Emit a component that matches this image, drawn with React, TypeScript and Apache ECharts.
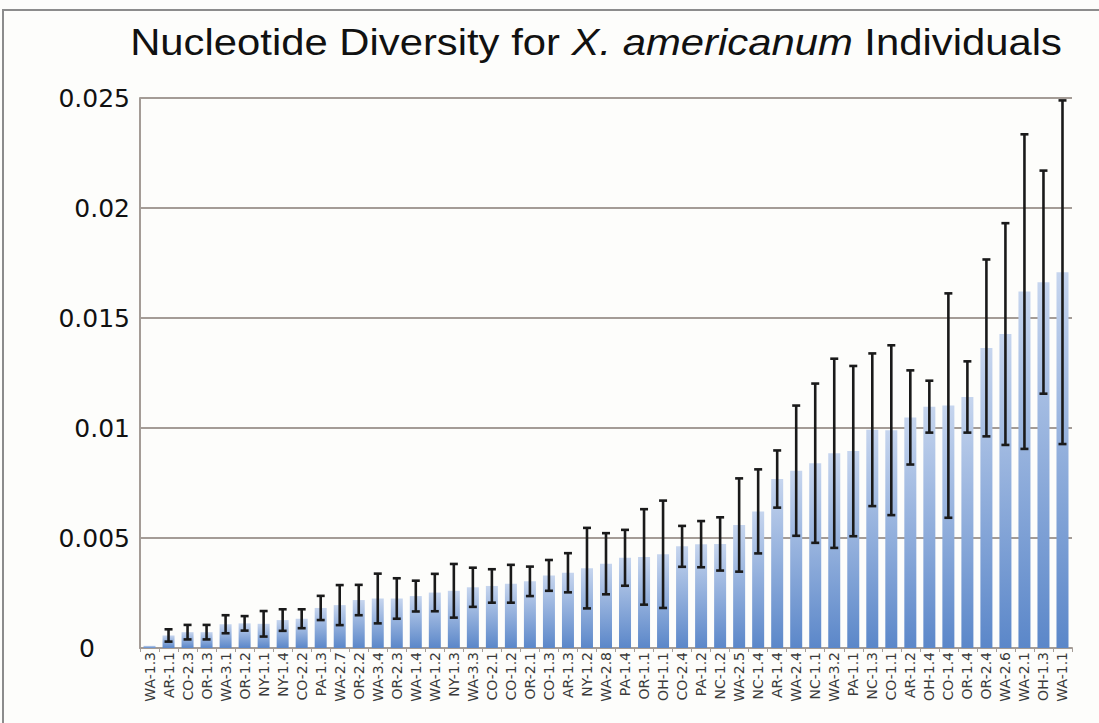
import React, { useEffect, useRef } from "react";
import * as echarts from "echarts";

const categories = [
  "WA-1.3", "AR-1.1", "CO-2.3", "OR-1.3", "WA-3.1", "OR-1.2", "NY-1.1", "NY-1.4", "CO-2.2", "PA-1.3",
  "WA-2.7", "OR-2.2", "WA-3.4", "OR-2.3", "WA-1.4", "WA-1.2", "NY-1.3", "WA-3.3", "CO-2.1", "CO-1.2",
  "OR-2.1", "CO-1.3", "AR-1.3", "NY-1.2", "WA-2.8", "PA-1.4", "OR-1.1", "OH-1.1", "CO-2.4", "PA-1.2",
  "NC-1.2", "WA-2.5", "NC-1.4", "AR-1.4", "WA-2.4", "NC-1.1", "WA-3.2", "PA-1.1", "NC-1.3", "CO-1.1",
  "AR-1.2", "OH-1.4", "CO-1.4", "OR-1.4", "OR-2.4", "WA-2.6", "WA-2.1", "OH-1.3", "WA-1.1",
];

const diversity = [
  0.0001, 0.00057, 0.00072, 0.00072, 0.00108, 0.00112, 0.0011, 0.00127, 0.00133, 0.00182,
  0.00195, 0.00218, 0.00225, 0.00225, 0.00236, 0.00252, 0.0026, 0.00276, 0.00282, 0.00292,
  0.00303, 0.0033, 0.00342, 0.00363, 0.00383, 0.0041, 0.00414, 0.00426, 0.00462, 0.00472,
  0.00473, 0.00559, 0.00621, 0.00768, 0.00806, 0.0084, 0.00885, 0.00895, 0.00992, 0.0099,
  0.01048, 0.01097, 0.01102, 0.01141, 0.01364, 0.01427, 0.0162, 0.01663, 0.01708,
];

const errors = [
  0, 0.00028, 0.00033, 0.00033, 0.00041, 0.00033, 0.00058, 0.00049, 0.00043, 0.00055,
  0.00091, 0.00069, 0.00113, 0.00092, 0.0007, 0.00085, 0.00122, 0.00089, 0.00076, 0.00086,
  0.00067, 0.0007, 0.00089, 0.00183, 0.00139, 0.00127, 0.00217, 0.00244, 0.00093, 0.00105,
  0.00121, 0.00212, 0.00191, 0.0013, 0.00296, 0.00362, 0.0043, 0.00387, 0.00347, 0.00386,
  0.00214, 0.00118, 0.0051, 0.00162, 0.00402, 0.00504, 0.00715, 0.00507, 0.00781,
];

const yTickLabels = ["0", "0.005", "0.01", "0.015", "0.02", "0.025"];
const yInterval = 0.005;
const titleText = "Nucleotide Diversity for {i|X. americanum} Individuals";

export default function App() {
  const ref = useRef<HTMLDivElement>(null);

  useEffect(() => {
    if (!ref.current) return;
    const chart = echarts.init(ref.current, null, { renderer: "svg" });
    const errData = diversity
      .map((v, i) => [i, v - errors[i], v + errors[i], errors[i]])
      .filter((d) => d[3] > 0);

    chart.setOption({
      animation: false,
      backgroundColor: "#fdfdfb",
      textStyle: { fontFamily: "Liberation Sans, Arial, sans-serif" },
      graphic: [
        {
          type: "rect",
          shape: { x: 3, y: 10, width: 1200, height: 800 },
          style: { fill: "none", stroke: "#8c8c8c", lineWidth: 2 },
          silent: true,
        },
        {
          type: "text",
          x: 596,
          y: 23,
          scaleX: 1.13,
          silent: true,
          style: {
            text: titleText,
            align: "center",
            verticalAlign: "top",
            fontSize: 37,
            fontFamily: "Liberation Sans, Arial, sans-serif",
            fill: "#111",
            rich: {
              i: {
                fontSize: 37,
                fontStyle: "italic",
                fill: "#111",
                fontFamily: "Liberation Sans, Arial, sans-serif",
              },
            },
          },
        },
      ],
      grid: { left: 140, right: 27, top: 98, bottom: 75 },
      xAxis: {
        type: "category",
        data: categories,
        axisLine: { lineStyle: { color: "#a49c96", width: 2 } },
        axisTick: { show: true, length: 4, lineStyle: { color: "#a49c96" } },
        axisLabel: {
          rotate: 90,
          interval: 0,
          fontSize: 14,
          color: "#3a3a3a",
          margin: 4,
          fontFamily: "DejaVu Sans, sans-serif",
        },
      },
      yAxis: {
        type: "value",
        min: 0,
        max: 0.025,
        interval: yInterval,
        axisLine: { show: true, lineStyle: { color: "#a49c96", width: 2 } },
        axisTick: { show: false },
        splitLine: { lineStyle: { color: "#a49c96", width: 2 } },
        axisLabel: {
          fontSize: 25,
          color: "#111",
          align: "right",
          margin: 10,
          fontFamily: "DejaVu Sans, sans-serif",
          formatter: (v: number) => {
            const idx = Math.round(v / yInterval);
            const s = yTickLabels[idx] ?? "";
            return idx === 0 ? "{z|" + s + "}" : s;
          },
          rich: {
            z: {
              fontSize: 25,
              color: "#111",
              fontFamily: "DejaVu Sans, sans-serif",
              padding: [0, 35, 0, 0],
            },
          },
        },
      },
      series: [
        {
          type: "bar",
          data: diversity,
          barWidth: 12,
          itemStyle: {
            color: new echarts.graphic.LinearGradient(0, 0, 0, 1, [
              { offset: 0, color: "#c6d5ee" },
              { offset: 1, color: "#5b87c9" },
            ]),
          },
        },
        {
          type: "custom",
          data: errData,
          encode: { x: 0, y: [1, 2] },
          z: 10,
          renderItem: (params: any, api: any) => {
            const x = api.value(0);
            const lo = api.value(1);
            const hi = api.value(2);
            const top = api.coord([x, hi]);
            const bot = api.coord([x, lo]);
            const hw = 4;
            const style = { stroke: "#1a1a1a", lineWidth: 2.6 };
            return {
              type: "group",
              children: [
                { type: "line", shape: { x1: top[0], y1: top[1], x2: bot[0], y2: bot[1] }, style },
                { type: "line", shape: { x1: top[0] - hw, y1: top[1], x2: top[0] + hw, y2: top[1] }, style },
                { type: "line", shape: { x1: bot[0] - hw, y1: bot[1], x2: bot[0] + hw, y2: bot[1] }, style },
              ],
            };
          },
        },
      ],
    });

    return () => chart.dispose();
  }, []);

  return (
    <div
      ref={ref}
      style={{ position: "fixed", left: 0, top: 0, width: 1099, height: 723 }}
    />
  );
}
